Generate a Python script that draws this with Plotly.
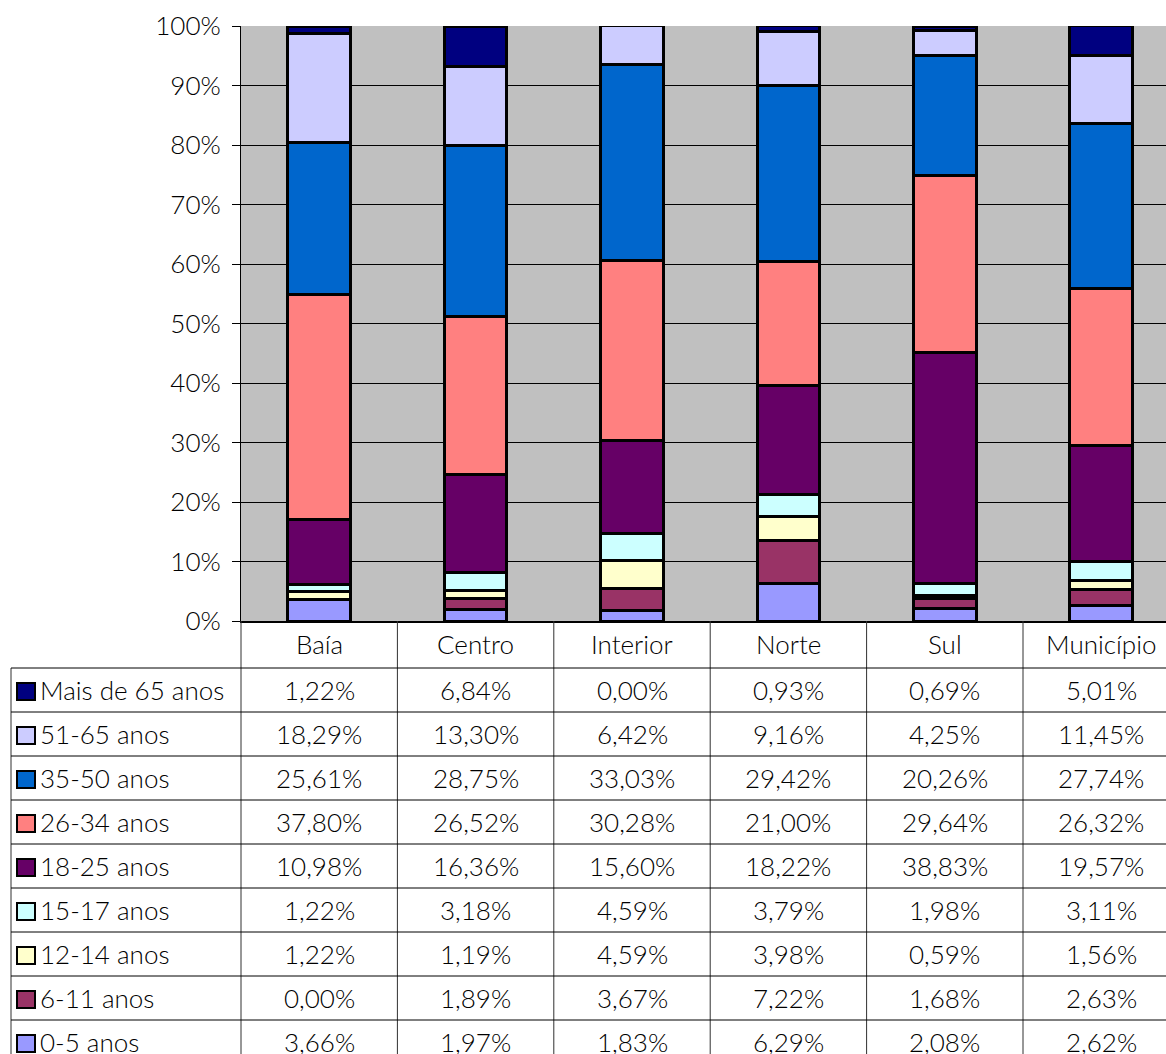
import plotly.graph_objects as go

# Regions (columns) and age groups (rows, listed top to bottom as in the table)
regions = ["Baía", "Centro", "Interior", "Norte", "Sul", "Município"]
age_groups = ["Mais de 65 anos", "51-65 anos", "35-50 anos", "26-34 anos", "18-25 anos",
              "15-17 anos", "12-14 anos", "6-11 anos", "0-5 anos"]

mais_65 = [1.22, 6.84, 0.00, 0.93, 0.69, 5.01]
a51_65 = [18.29, 13.30, 6.42, 9.16, 4.25, 11.45]
a35_50 = [25.61, 28.75, 33.03, 29.42, 20.26, 27.74]
a26_34 = [37.80, 26.52, 30.28, 21.00, 29.64, 26.32]
a18_25 = [10.98, 16.36, 15.60, 18.22, 38.83, 19.57]
a15_17 = [1.22, 3.18, 4.59, 3.79, 1.98, 3.11]
a12_14 = [1.22, 1.19, 4.59, 3.98, 0.59, 1.56]
a6_11 = [0.00, 1.89, 3.67, 7.22, 1.68, 2.63]
a0_5 = [3.66, 1.97, 1.83, 6.29, 2.08, 2.62]

series = [mais_65, a51_65, a35_50, a26_34, a18_25, a15_17, a12_14, a6_11, a0_5]
colors = ["#000080", "#CCCCFF", "#0066CC", "#FF8080", "#660066",
          "#CCFFFF", "#FFFFCC", "#993366", "#9999FF"]

y_ticks = list(range(0, 101, 10))

W, H = 1166, 1054
FONT = "Lato"
FS = 26
FW = 300

# pixel layout helpers
plot_left, plot_top, plot_bottom = 241, 26, 621
col_w = 156.4
header_bottom = 668
row_h = 44
label_left = 11


def px(x):
    return x / W


def py(y):
    return 1 - y / H


text_font = dict(family=FONT, size=FS, color="black", weight=FW)

fig = go.Figure()

# stacked bars: bottom group first
for name, vals, col in reversed(list(zip(age_groups, series, colors))):
    fig.add_trace(go.Bar(
        x=list(range(len(regions))), y=vals, name=name,
        marker=dict(color=col, line=dict(color="black", width=3)),
        width=0.4, showlegend=False,
    ))

shapes = []
annotations = []

# table vertical lines
for k in range(len(regions) + 1):
    xl = plot_left + k * col_w
    if xl > W:
        continue
    shapes.append(dict(type="line", xref="paper", yref="paper",
                       x0=px(xl), x1=px(xl), y0=py(plot_bottom), y1=0,
                       line=dict(color="#303030", width=1)))
shapes.append(dict(type="line", xref="paper", yref="paper",
                   x0=px(label_left), x1=px(label_left), y0=py(header_bottom), y1=0,
                   line=dict(color="#303030", width=1)))

# table horizontal lines
for r in range(len(age_groups) + 1):
    yl = header_bottom + r * row_h
    if yl > H:
        continue
    shapes.append(dict(type="line", xref="paper", yref="paper",
                       x0=px(label_left), x1=1, y0=py(yl), y1=py(yl),
                       line=dict(color="black", width=1)))

# header texts
for k, reg in enumerate(regions):
    annotations.append(dict(x=k, y=py((plot_bottom + header_bottom) / 2 - 1),
                            xref="x", yref="paper", text=reg, showarrow=False,
                            xanchor="center", yanchor="middle", font=text_font))

# rows: legend key, label and values
for r, (name, vals, col) in enumerate(zip(age_groups, series, colors)):
    yc = header_bottom + r * row_h + row_h / 2
    shapes.append(dict(type="rect", xref="paper", yref="paper",
                       x0=px(17), x1=px(35), y0=py(yc - 7), y1=py(yc + 10),
                       fillcolor=col, line=dict(color="black", width=2)))
    annotations.append(dict(x=px(38), y=py(yc), xref="paper", yref="paper",
                            text=name, showarrow=False, xanchor="left", yanchor="middle",
                            font=text_font))
    for k, v in enumerate(vals):
        annotations.append(dict(x=k, y=py(yc), xref="x", yref="paper",
                                text=f"{v:.2f}".replace(".", ",") + "%", showarrow=False,
                                xanchor="center", yanchor="middle", font=text_font))

x_max = -0.5 + (W - plot_left) / col_w

fig.update_layout(
    width=W, height=H,
    margin=dict(l=0, r=0, t=0, b=0, autoexpand=False),
    barmode="stack",
    paper_bgcolor="white",
    plot_bgcolor="#C0C0C0",
    font=text_font,
    xaxis=dict(domain=[px(plot_left), 1], range=[-0.5, x_max],
               showticklabels=False, showgrid=False, zeroline=False,
               showline=True, linecolor="black", linewidth=2, ticks=""),
    yaxis=dict(domain=[py(plot_bottom), py(plot_top)], range=[0, 100],
               tickvals=y_ticks, ticktext=[f"{t}%" for t in y_ticks],
               showgrid=True, gridcolor="black", gridwidth=1, zeroline=False,
               showline=True, linecolor="black", linewidth=1,
               ticks="outside", ticklen=8, tickcolor="black",
               ticklabelstandoff=6, tickfont=text_font),
    shapes=shapes,
    annotations=annotations,
)

fig.write_html("out.html")
